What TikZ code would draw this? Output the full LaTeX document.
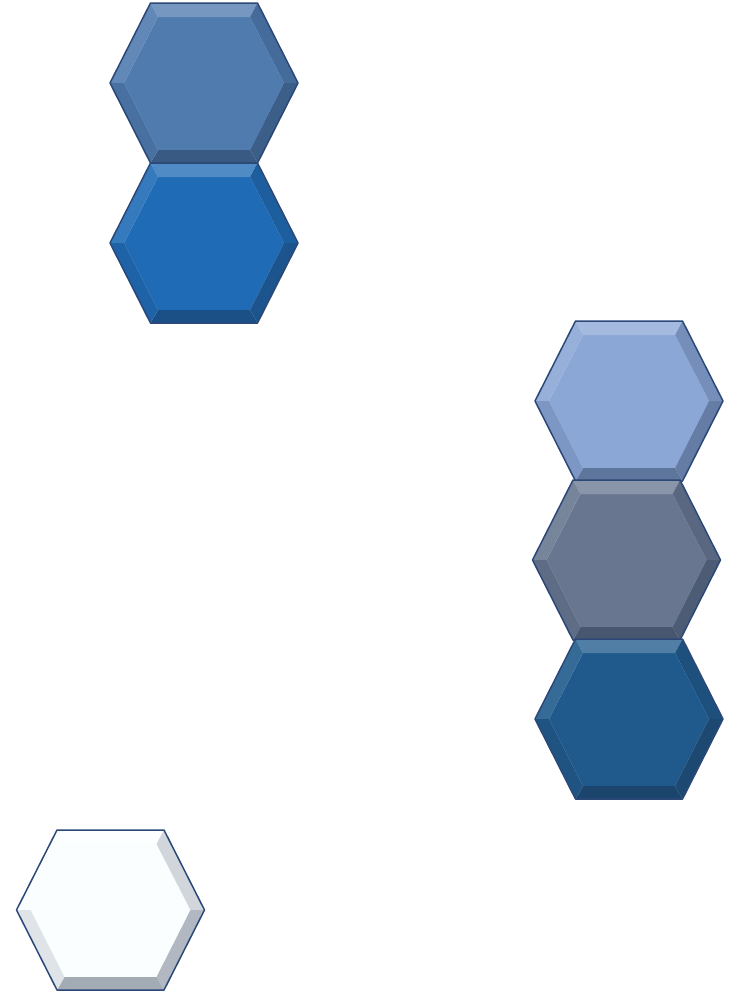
\documentclass[tikz,border=0pt]{standalone}
\definecolor{hA}{RGB}{79,123,174}
\definecolor{hB}{RGB}{31,107,181}
\definecolor{hC}{RGB}{139,167,214}
\definecolor{hD}{RGB}{104,119,143}
\definecolor{hE}{RGB}{32,90,140}
\definecolor{hF}{RGB}{251,254,255}
\definecolor{edgeblue}{RGB}{44,72,120}
\definecolor{shadeblue}{RGB}{20,35,60}
\tikzset{
  hexa/.pic={
    % outer vertices
    \coordinate (-L)  at (-94,0);
    \coordinate (-TL) at (-53.5,-80);
    \coordinate (-TR) at (53.5,-80);
    \coordinate (-R)  at (94,0);
    \coordinate (-BR) at (53.5,80);
    \coordinate (-BL) at (-53.5,80);
    % inner vertices
    \coordinate (-l)  at (-80,0);
    \coordinate (-tl) at (-46,-66);
    \coordinate (-tr) at (46,-66);
    \coordinate (-r)  at (80,0);
    \coordinate (-br) at (46,67);
    \coordinate (-bl) at (-46,67);
    \fill[#1] (-l)--(-tl)--(-tr)--(-r)--(-br)--(-bl)--cycle;
    \fill[#1!78!white] (-TL)--(-TR)--(-tr)--(-tl)--cycle;
    \fill[#1!90!white] (-L)--(-TL)--(-tl)--(-l)--cycle;
    \fill[#1!82!shadeblue] (-TR)--(-R)--(-r)--(-tr)--cycle;
    \fill[#1!68!shadeblue] (-R)--(-BR)--(-br)--(-r)--cycle;
    \fill[#1!62!shadeblue] (-BR)--(-BL)--(-bl)--(-br)--cycle;
    \fill[#1!88!shadeblue] (-BL)--(-L)--(-l)--(-bl)--cycle;
    \draw[edgeblue, line width=1.5pt, line join=round]
      (-L)--(-TL)--(-TR)--(-R)--(-BR)--(-BL)--cycle;
  }
}
\begin{document}
\begin{tikzpicture}[x=1pt,y=-1pt]
  \useasboundingbox (0,0) rectangle (741,994);
  \fill[white] (0,0) rectangle (741,994);
  \pic (h1) at (204,83)   {hexa=hA};
  \pic (h2) at (204,243)  {hexa=hB};
  \pic (h3) at (629,401)  {hexa=hC};
  \pic (h4) at (626.5,560) {hexa=hD};
  \pic (h5) at (629,719)  {hexa=hE};
  \pic (h6) at (110.5,910) {hexa=hF};
\end{tikzpicture}
\end{document}
